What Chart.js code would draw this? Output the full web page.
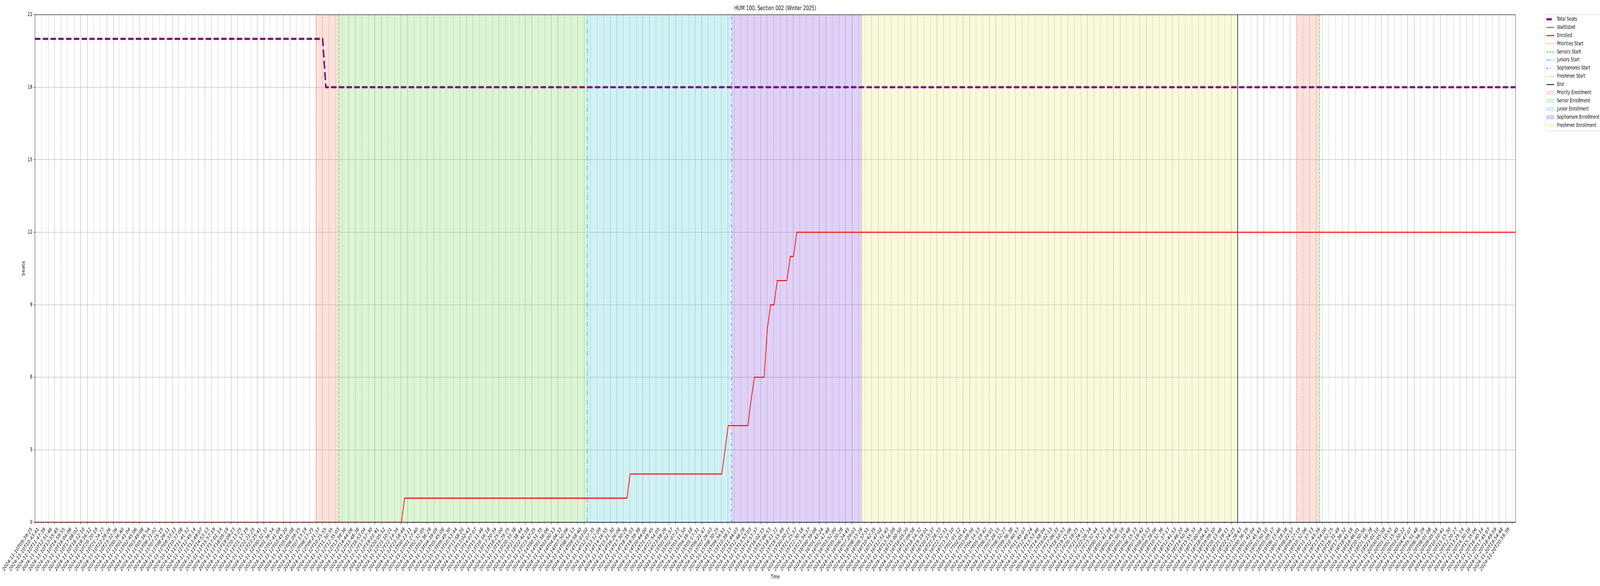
<!DOCTYPE html>
<html>
<head>
<meta charset="utf-8">
<script src="https://cdn.jsdelivr.net/npm/chart.js@4.4.1/dist/chart.umd.min.js"></script>
<style>
html,body{margin:0;padding:0;background:#fff;overflow:hidden;}
canvas{display:block;}
</style>
</head>
<body>
<canvas id="c" width="6000" height="1500"></canvas>
<script>
// ---------------- DATA ----------------
const chartTitle = 'HUM 100, Section 002 (Winter 2025)';
const xAxisTitle = 'Time';
const yAxisTitle = 'Seats';

// x tick labels (one per tick; x values below are in tick-index units)
const tickLabels = [
'2024-11-10T09:39:25','2024-11-10T10:43:41','2024-11-10T11:47:39','2024-11-10T12:51:46','2024-11-10T13:55:45',
'2024-11-10T14:59:55','2024-11-10T16:04:06','2024-11-10T17:08:02','2024-11-10T18:12:10','2024-11-10T19:16:12',
'2024-11-10T20:20:19','2024-11-10T21:24:27','2024-11-10T22:28:26','2024-11-10T23:32:36','2024-11-11T00:36:40',
'2024-11-11T01:41:04','2024-11-11T02:45:06','2024-11-11T03:49:08','2024-11-11T05:16:54','2024-11-11T06:21:02',
'2024-11-11T07:25:15','2024-11-11T08:29:11','2024-11-11T09:33:13','2024-11-11T10:37:08','2024-11-11T11:41:12',
'2024-11-11T12:45:14','2024-11-11T13:49:07','2024-11-11T14:53:13','2024-11-11T15:57:19','2024-11-11T17:01:14',
'2024-11-11T18:05:19','2024-11-11T19:09:23','2024-11-11T20:13:25','2024-11-11T21:17:19','2024-11-11T22:21:25',
'2024-11-11T23:25:41','2024-11-12T00:32:37','2024-11-12T01:36:54','2024-11-12T02:41:09','2024-11-12T03:45:20',
'2024-11-12T05:05:08','2024-11-12T06:09:15','2024-11-12T07:13:19','2024-11-12T08:17:25','2024-11-12T09:21:37',
'2024-11-12T10:25:55','2024-11-12T11:30:35','2024-11-12T12:35:03','2024-11-12T13:39:36','2024-11-12T14:44:06',
'2024-11-12T15:48:38','2024-11-12T16:53:04','2024-11-12T17:57:30','2024-11-12T19:01:41','2024-11-12T20:05:52',
'2024-11-12T21:10:21','2024-11-12T22:14:34','2024-11-12T23:18:49','2024-11-13T00:23:11','2024-11-13T01:27:40',
'2024-11-13T02:32:05','2024-11-13T03:36:29','2024-11-13T04:39:05','2024-11-13T05:45:08','2024-11-13T09:49:30',
'2024-11-13T10:53:44','2024-11-13T11:58:20','2024-11-13T13:02:43','2024-11-13T14:07:07','2024-11-13T15:11:46',
'2024-11-13T16:16:18','2024-11-13T17:20:34','2024-11-13T18:25:00','2024-11-13T19:29:25','2024-11-13T20:33:38',
'2024-11-13T21:38:44','2024-11-13T22:42:58','2024-11-13T23:47:25','2024-11-14T00:51:35','2024-11-14T01:56:06',
'2024-11-14T03:00:13','2024-11-14T04:04:33','2024-11-14T07:50:06','2024-11-14T08:54:13','2024-11-14T09:58:40',
'2024-11-14T11:03:02','2024-11-14T12:07:35','2024-11-14T13:12:09','2024-11-14T14:16:55','2024-11-14T15:21:30',
'2024-11-14T16:26:06','2024-11-14T17:30:28','2024-11-14T18:35:03','2024-11-14T19:39:38','2024-11-14T20:44:00',
'2024-11-14T21:49:45','2024-11-14T22:54:05','2024-11-14T23:58:26','2024-11-15T01:02:57','2024-11-15T02:07:23',
'2024-11-15T03:11:50','2024-11-15T04:16:18','2024-11-15T05:17:31','2024-11-15T06:21:47','2024-11-15T07:26:03',
'2024-11-15T08:30:25','2024-11-15T09:34:51','2024-11-15T10:39:17','2024-11-15T11:44:03','2024-11-15T12:48:28',
'2024-11-15T13:53:03','2024-11-15T14:57:37','2024-11-15T16:02:15','2024-11-15T17:06:53','2024-11-15T18:11:22',
'2024-11-15T19:15:49','2024-11-15T20:20:27','2024-11-15T21:25:57','2024-11-15T22:30:18','2024-11-15T23:34:37',
'2024-11-16T00:39:08','2024-11-16T01:43:24','2024-11-16T02:47:48','2024-11-16T03:52:00','2024-11-16T05:20:28',
'2024-11-16T06:24:45','2024-11-16T07:29:03','2024-11-16T08:33:28','2024-11-16T09:37:51','2024-11-16T10:42:35',
'2024-11-16T11:47:02','2024-11-16T12:51:43','2024-11-16T13:56:09','2024-11-16T15:00:50','2024-11-16T16:05:20',
'2024-11-16T17:09:58','2024-11-16T18:14:32','2024-11-16T19:19:01','2024-11-16T20:23:37','2024-11-16T21:28:33',
'2024-11-16T22:32:51','2024-11-16T23:37:10','2024-11-17T01:01:12','2024-11-17T02:05:41','2024-11-17T03:09:56',
'2024-11-17T04:14:13','2024-11-17T05:19:42','2024-11-17T06:24:01','2024-11-17T07:28:15','2024-11-17T08:32:27',
'2024-11-17T09:36:38','2024-11-17T10:40:57','2024-11-17T11:45:07','2024-11-17T12:49:24','2024-11-17T13:53:46',
'2024-11-17T14:58:04','2024-11-17T16:02:13','2024-11-17T17:06:33','2024-11-17T18:10:53','2024-11-17T19:15:06',
'2024-11-17T20:19:25','2024-11-17T21:24:11','2024-11-17T22:28:34','2024-11-17T23:32:44','2024-11-18T00:37:17',
'2024-11-18T01:41:39','2024-11-18T02:45:56','2024-11-18T03:50:19','2024-11-18T05:10:48','2024-11-18T06:15:13',
'2024-11-18T07:19:42','2024-11-18T08:23:53','2024-11-18T09:28:06','2024-11-18T10:32:36','2024-11-18T11:37:17',
'2024-11-18T12:41:53','2024-11-18T13:46:20','2024-11-18T14:50:56','2024-11-18T15:55:33','2024-11-18T17:00:04',
'2024-11-18T18:04:43','2024-11-18T19:09:10','2024-11-18T20:13:46','2024-11-18T21:19:11','2024-11-18T22:24:25',
'2024-11-18T23:28:43','2024-11-19T00:36:19','2024-11-19T01:41:04','2024-11-19T02:45:43','2024-11-19T03:50:10',
'2024-11-19T05:09:17','2024-11-19T06:13:46','2024-11-19T07:18:18','2024-11-19T08:22:57','2024-11-19T09:27:19',
'2024-11-19T10:32:06','2024-11-19T11:37:13','2024-11-19T12:43:39','2024-11-19T13:54:00','2024-11-19T15:02:25',
'2024-11-19T16:31:49','2024-11-19T17:36:32','2024-11-19T18:41:18','2024-11-19T19:46:01','2024-11-19T20:50:56',
'2024-11-19T21:56:28','2024-11-19T23:01:10','2024-11-20T00:05:58','2024-11-20T01:10:53','2024-11-20T02:15:40',
'2024-11-20T03:20:22','2024-11-20T04:47:07','2024-11-20T05:51:48','2024-11-20T06:56:29','2024-11-20T08:01:08',
'2024-11-20T09:05:54','2024-11-20T10:10:41','2024-11-20T11:15:30','2024-11-20T12:20:27','2024-11-20T13:25:14',
'2024-11-20T14:30:16','2024-11-20T15:35:06','2024-11-20T16:40:14','2024-11-20T17:45:07','2024-11-20T18:49:59',
'2024-11-20T19:54:48','2024-11-20T20:59:39'
];
const xEnd = 226.5;

const seatTicks = [0, 3, 6, 9, 12, 15, 18, 21];

const totalSeatsX = [0, 44.0, 44.5, 226.5];
const totalSeatsY = [20, 20, 18, 18];

const waitlistedX = [0, 226.5];
const waitlistedY = [0, 0];

const enrolledX = [0, 56.05, 56.55, 90.56, 91.04, 105.08, 106.05, 109.06, 109.52, 110.06, 111.55, 112.04, 112.55, 113.07, 113.55, 115.04, 115.56, 116.04, 116.56, 226.5];
const enrolledY = [0, 0,     1,     1,     2,     2,      4,      4,      5,      6,      6,      8,      9,      9,      10,     10,     11,     11,     12,     12];

const prioritiesStart = [42.98, 193.05];
const seniorsStart    = [46.5, 196.55];
const juniorsStart    = [84.5];
const sophomoresStart = [106.55];
const freshmenStart   = [126.5];
const endMarks        = [184.0];

// ---------------- STYLES ----------------
const C = {
  total: '#800080', wait: '#0000ff', enrolled: '#ff0000',
  prio: '#ea6e3c', senior: '#44c81c', junior: '#17becf', soph: '#6a22dc', fresh: '#d8d832', end: '#000000',
  prioFill: 'rgba(232,112,72,0.2)', seniorFill: 'rgba(80,205,40,0.2)', juniorFill: 'rgba(23,190,207,0.2)',
  sophFill: 'rgba(110,50,215,0.22)', freshFill: 'rgba(220,220,60,0.18)'
};
const FONT = "'DejaVu Sans', sans-serif";
const FS = 13.9;

// the 6000x1500 drawing is shown over the whole browser window
(function fitPage() {
  const cv = document.getElementById('c');
  const vw = window.innerWidth || 6000;
  const vh = window.innerHeight || 1500;
  cv.style.width = vw + 'px';
  cv.style.height = vh + 'px';
})();

const pts = (xs, ys) => xs.map((x, i) => ({x: x, y: ys[i]}));
const yMin = seatTicks[0], yMax = seatTicks[seatTicks.length - 1];

function vlines(label, xs, color, dash, width) {
  return xs.map(x => ({
    type: 'line', label: label, data: [{x: x, y: yMin}, {x: x, y: yMax}],
    borderColor: color, borderDash: dash, borderWidth: width, pointRadius: 0,
    fill: false, tension: 0, order: 20
  }));
}
function spans(label, froms, tos, color) {
  return froms.map((f, i) => ({
    type: 'line', label: label, data: [{x: f, y: yMax}, {x: tos[i], y: yMax}],
    borderWidth: 0, borderColor: 'rgba(0,0,0,0)', backgroundColor: color, pointRadius: 0,
    fill: 'start', tension: 0, order: 30
  }));
}

const datasets = [
  {label: 'Total Seats', data: pts(totalSeatsX, totalSeatsY), borderColor: C.total, borderWidth: 5.5,
   borderDash: [20.3, 8.8], borderCapStyle: 'butt', pointRadius: 0, tension: 0, fill: false, order: 3},
  {label: 'Waitlisted', data: pts(waitlistedX, waitlistedY), borderColor: C.wait, borderWidth: 1.5,
   pointRadius: 0, tension: 0, fill: false, order: 2},
  {label: 'Enrolled', data: pts(enrolledX, enrolledY), borderColor: C.enrolled, borderWidth: 2.6,
   pointRadius: 0, tension: 0, fill: false, order: 1},
  ...vlines('Priorities Start', prioritiesStart, C.prio, [2, 3.3], 2),
  ...vlines('Seniors Start', seniorsStart, C.senior, [7.4, 3.2], 2),
  ...vlines('Juniors Start', juniorsStart, C.junior, [14, 4, 3, 4], 2),
  ...vlines('Sophomores Start', sophomoresStart, C.soph, [6, 10, 2, 10], 2),
  ...vlines('Freshmen Start', freshmenStart, C.fresh, [6, 2, 2, 2], 2),
  ...vlines('End', endMarks, C.end, [], 2),
  ...spans('Priority Enrollment', prioritiesStart, seniorsStart, C.prioFill),
  ...spans('Senior Enrollment', [seniorsStart[0]], [juniorsStart[0]], C.seniorFill),
  ...spans('Junior Enrollment', [juniorsStart[0]], [sophomoresStart[0]], C.juniorFill),
  ...spans('Sophomore Enrollment', [sophomoresStart[0]], [freshmenStart[0]], C.sophFill),
  ...spans('Freshmen Enrollment', [freshmenStart[0]], [endMarks[0]], C.freshFill)
];

const legendLabels = ['Total Seats','Waitlisted','Enrolled','Priorities Start','Seniors Start','Juniors Start',
  'Sophomores Start','Freshmen Start','End','Priority Enrollment','Senior Enrollment','Junior Enrollment',
  'Sophomore Enrollment','Freshmen Enrollment'];

// ---------------- PLUGINS ----------------
const framePlugin = {
  id: 'frame',
  afterDatasetsDraw(chart) {
    const {ctx, chartArea: a} = chart;
    ctx.save();
    ctx.strokeStyle = '#000';
    ctx.lineWidth = 1.1;
    ctx.strokeRect(a.left, a.top, a.right - a.left, a.bottom - a.top);
    ctx.restore();
  }
};

const titlePlugin = {
  id: 'mplTitle',
  afterDraw(chart) {
    const {ctx, chartArea: a} = chart;
    ctx.save();
    ctx.font = '16.7px ' + FONT;
    ctx.fillStyle = '#000';
    ctx.textAlign = 'center';
    ctx.textBaseline = 'middle';
    ctx.fillText(chartTitle, (a.left + a.right) / 2, 22);
    ctx.restore();
  }
};

const legendPlugin = {
  id: 'mplLegend',
  afterDraw(chart) {
    const ctx = chart.ctx;
    const ds = chart.data.datasets;
    const bx = 5794.5, by = 37.5, bw = 230, bh = 297.5, r = 3;
    ctx.save();
    ctx.beginPath();
    ctx.moveTo(bx + r, by);
    ctx.lineTo(bx + bw - r, by); ctx.quadraticCurveTo(bx + bw, by, bx + bw, by + r);
    ctx.lineTo(bx + bw, by + bh - r); ctx.quadraticCurveTo(bx + bw, by + bh, bx + bw - r, by + bh);
    ctx.lineTo(bx + r, by + bh); ctx.quadraticCurveTo(bx, by + bh, bx, by + bh - r);
    ctx.lineTo(bx, by + r); ctx.quadraticCurveTo(bx, by, bx + r, by);
    ctx.closePath();
    ctx.fillStyle = 'rgba(255,255,255,0.8)';
    ctx.fill();
    ctx.strokeStyle = '#cccccc';
    ctx.lineWidth = 1;
    ctx.stroke();

    const hx0 = 5799, hx1 = 5828, tx = 5838.5, y0 = 49.3, step = 20.9;
    legendLabels.forEach((lab, i) => {
      const d = ds.find(s => s.label === lab);
      const y = y0 + i * step;
      if (d.fill && d.fill !== false) {
        ctx.setLineDash([]);
        ctx.fillStyle = d.backgroundColor;
        ctx.fillRect(hx0, y - 4.9, hx1 - hx0, 9.8);
        ctx.strokeStyle = d.backgroundColor;
        ctx.lineWidth = 1;
        ctx.strokeRect(hx0 + 0.5, y - 4.4, hx1 - hx0 - 1, 8.8);
      } else {
        ctx.beginPath();
        ctx.setLineDash(d.borderDash || []);
        ctx.lineDashOffset = 0;
        ctx.lineCap = 'butt';
        ctx.strokeStyle = d.borderColor;
        ctx.lineWidth = d.borderWidth;
        ctx.moveTo(hx0, y);
        ctx.lineTo(hx1, y);
        ctx.stroke();
      }
      ctx.setLineDash([]);
      ctx.fillStyle = '#000';
      ctx.font = FS + 'px ' + FONT;
      ctx.textAlign = 'left';
      ctx.textBaseline = 'middle';
      ctx.fillText(lab, tx, y);
    });
    ctx.restore();
  }
};

// ---------------- CHART ----------------
Chart.defaults.font.family = FONT;
Chart.defaults.font.size = FS;
Chart.defaults.color = '#000';

new Chart(document.getElementById('c'), {
  type: 'line',
  data: {datasets: datasets},
  options: {
    responsive: false,
    animation: false,
    devicePixelRatio: 1,
    events: [],
    layout: {padding: {top: 37.7, right: 317, bottom: 0, left: 0}},
    plugins: {legend: {display: false}, title: {display: false}, tooltip: {enabled: false}},
    scales: {
      x: {
        type: 'linear',
        min: 0, max: xEnd,
        afterFit(s) { s.height = 163; },
        grid: {color: '#b0b0b0', lineWidth: 1, drawTicks: true, tickLength: 5, tickColor: '#000', tickWidth: 1},
        border: {display: true, color: '#000', width: 1.1},
        ticks: {
          stepSize: 1, includeBounds: false, autoSkip: false, minRotation: 45, maxRotation: 45,
          padding: 5, labelOffset: -12, color: '#000', font: {size: FS},
          callback: (v) => (Number.isInteger(v) && tickLabels[v] !== undefined) ? tickLabels[v] : ''
        },
        title: {display: true, text: xAxisTitle, color: '#000', font: {size: FS}, padding: {top: 0, bottom: 14.7}}
      },
      y: {
        type: 'linear',
        min: yMin, max: yMax,
        afterFit(s) { s.width = 131.3; },
        grid: {color: '#b0b0b0', lineWidth: 1, drawTicks: true, tickLength: 5, tickColor: '#000', tickWidth: 1},
        border: {display: true, color: '#000', width: 1.1},
        ticks: {stepSize: 3, padding: 5, color: '#000', font: {size: FS}},
        title: {display: true, text: yAxisTitle, color: '#000', font: {size: FS}, padding: {top: 80, bottom: 0}}
      }
    }
  },
  plugins: [framePlugin, titlePlugin, legendPlugin]
});
</script>
</body>
</html>
